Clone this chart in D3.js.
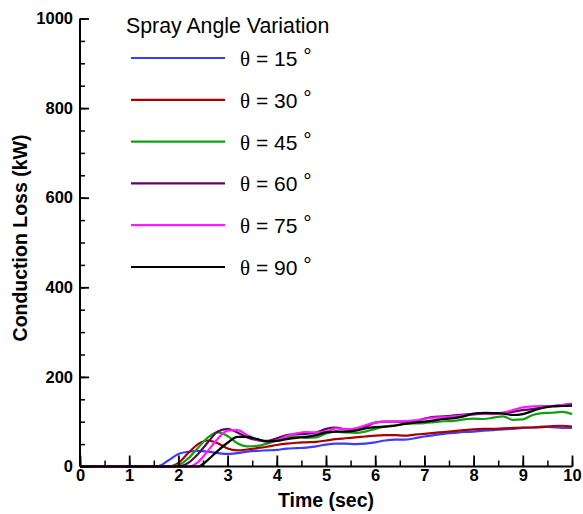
<!DOCTYPE html>
<html><head><meta charset="utf-8">
<script src="https://cdn.jsdelivr.net/npm/d3@7"></script>
<style>body{margin:0;background:#fff}svg{display:block}</style>
</head><body>
<script>
const time = [0,0.2,0.4,0.6,0.8,1,1.2,1.4,1.6,1.8,2,2.2,2.4,2.6,2.8,3,3.2,3.4,3.6,3.8,4,4.2,4.4,4.6,4.8,5,5.2,5.4,5.6,5.8,6,6.2,6.4,6.6,6.8,7,7.2,7.4,7.6,7.8,8,8.2,8.4,8.6,8.8,9,9.2,9.4,9.6,9.8,10];
const theta15 = [0,0,0,0,0,0,0,0,1,14,28,33,35,33,30,28,30,33,35,36,37,40,41,42,45,49,51,51,50,51,54,58,60,60,63,67,70,73,75,77,78,80,81,83,84,86,87,89,88,86,86];
const theta30 = [0,0,0,0,0,0,0,0,0,0,8,30,50,58,52,40,36,38,41,44,48,51,53,54,55,58,61,63,65,67,69,70,70,69,71,73,75,77,79,81,83,84,84,85,86,87,87,88,90,91,89];
const theta45 = [0,0,0,0,0,0,0,0,0,0,3,18,42,65,76,68,52,45,46,51,58,65,67,64,65,74,78,76,75,78,84,89,92,95,96,97,99,101,102,105,107,106,109,112,104,105,115,119,120,122,117];
const theta60 = [0,0,0,0,0,0,0,0,0,0,0,8,28,54,78,84,76,65,59,57,63,70,72,73,76,84,87,83,82,88,98,100,100,100,101,107,111,112,114,116,117,120,119,120,122,126,128,132,135,137,140];
const theta75 = [0,0,0,0,0,0,0,0,0,0,0,0,10,35,62,80,81,70,60,56,58,68,74,77,76,78,85,83,85,92,98,100,100,101,103,106,109,110,112,114,116,118,117,120,126,132,134,135,135,137,139];
const theta90 = [0,0,0,0,0,0,0,0,0,0,0,0,0,15,35,53,66,66,61,56,57,61,64,66,70,76,78,78,80,85,88,89,91,95,98,100,103,106,108,112,118,119,119,118,115,117,124,131,134,135,136];
const seriesLabels = ["15","30","45","60","75","90"];
const seriesColors = ["#3c3cff","#a80000","#12a012","#5a0a5a","#ff1aff","#000000"];
const xTicks = [0,1,2,3,4,5,6,7,8,9,10];
const yTicks = [0,200,400,600,800,1000];

const W = 583, H = 514;
const svg = d3.select("body").append("svg").attr("width", W).attr("height", H);
const x = d3.scaleLinear().domain([0,10]).range([80,572]);
const y = d3.scaleLinear().domain([0,1000]).range([466.5,18.5]);

const seriesData = [theta15,theta30,theta45,theta60,theta75,theta90];
const line = d3.line().x((d,i)=>x(time[i])).y(d=>y(d)).curve(d3.curveMonotoneX);
seriesData.forEach((s,k)=>{
  svg.append("path").datum(s).attr("d", line).attr("fill","none")
    .attr("stroke", seriesColors[k]).attr("stroke-width", 2.2);
});

const fontB = "'Liberation Sans', Arial, sans-serif";
// minor ticks
svg.append("g").attr("transform","translate(80,0)")
  .call(d3.axisLeft(y).tickValues(d3.range(0,1001,50)).tickSize(-5).tickFormat(""))
  .call(g=>{g.select(".domain").remove(); g.selectAll("line").attr("stroke","#000").attr("stroke-width",1.5);});
svg.append("g").attr("transform","translate(0,466.5)")
  .call(d3.axisBottom(x).tickValues(d3.range(0,10.01,0.5)).tickSize(-6).tickFormat(""))
  .call(g=>{g.select(".domain").remove(); g.selectAll("line").attr("stroke","#000").attr("stroke-width",1.5);});
// major
const ya = svg.append("g").attr("transform","translate(80,0)")
  .call(d3.axisLeft(y).tickValues(yTicks).tickSize(-9).tickPadding(7).tickFormat(d3.format("d")));
const xa = svg.append("g").attr("transform","translate(0,466.5)")
  .call(d3.axisBottom(x).tickValues(xTicks).tickSize(-11).tickPadding(3).tickFormat(d3.format("d")));
[ya,xa].forEach(g=>{
  g.select(".domain").attr("stroke","#000").attr("stroke-width",2);
  g.selectAll("line").attr("stroke","#000").attr("stroke-width",1.8);
  g.selectAll("text").attr("font-family",fontB).attr("font-weight","bold").attr("font-size",16.5).attr("fill","#000");
});
ya.select(".domain").attr("d","M0,18.5V466.5");
xa.select(".domain").attr("d","M80,0H572");

svg.append("text").attr("x",326).attr("y",507).attr("text-anchor","middle")
  .attr("font-family",fontB).attr("font-weight","bold").attr("font-size",19.5).text("Time (sec)");
svg.append("text").attr("transform","translate(27,238) rotate(-90)").attr("text-anchor","middle")
  .attr("font-family",fontB).attr("font-weight","bold").attr("font-size",19.5).text("Conduction Loss (kW)");

// legend
svg.append("text").attr("x",126).attr("y",33).attr("font-family",fontB).attr("font-size",21.3).text("Spray Angle Variation");
const lg = svg.append("g");
seriesLabels.forEach((lab,k)=>{
  const yy = 58 + k*41.8;
  lg.append("line").attr("x1",131).attr("x2",225).attr("y1",yy).attr("y2",yy)
    .attr("stroke",seriesColors[k]).attr("stroke-width",2.2);
  const t = lg.append("text").attr("x",240).attr("y",yy+8).attr("font-size",21).attr("font-family",fontB);
  t.append("tspan").attr("font-family","'Liberation Serif', serif").text("θ");
  t.append("tspan").text(" = " + lab + " ");
  t.append("tspan").attr("dy",-3).text("°");
});
</script>
</body></html>
